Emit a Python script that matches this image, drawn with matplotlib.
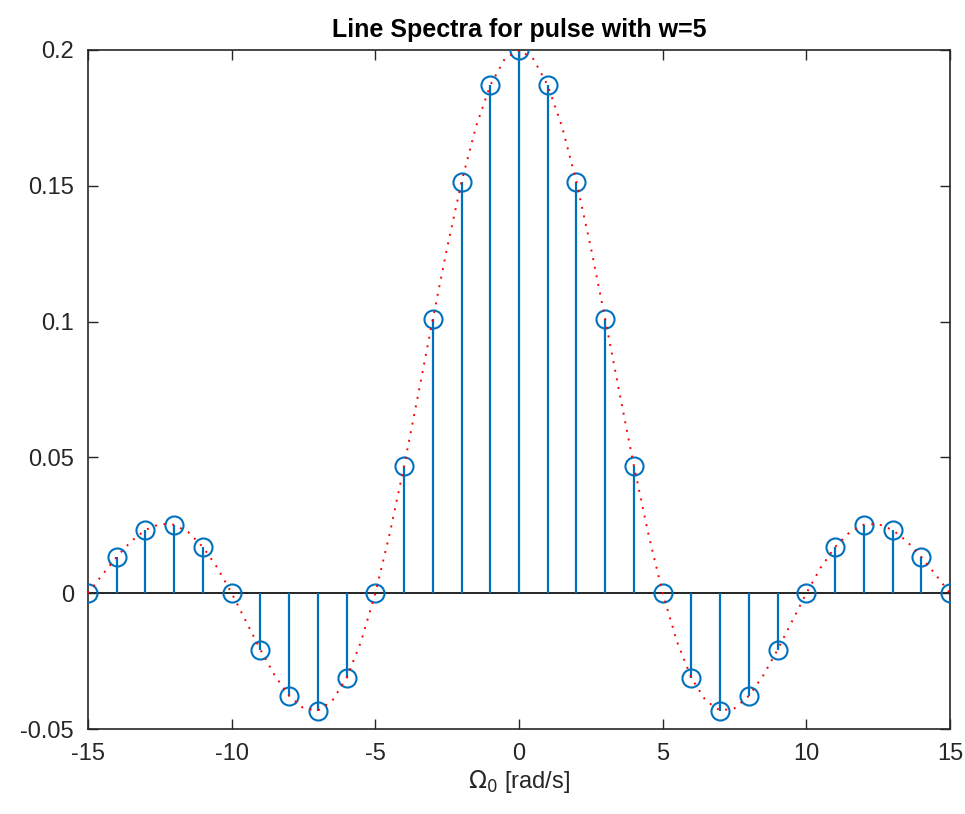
import matplotlib
matplotlib.use("Agg")
import matplotlib.pyplot as plt

# line spectrum values, k = -15..15
k = list(range(-15, 16))
ck_right = [0.2, 0.187, 0.1514, 0.1009, 0.0468, 0.0, -0.0312, -0.0432, -0.0378,
            -0.0208, 0.0, 0.0170, 0.0252, 0.0233, 0.0134, 0.0]
ck = ck_right[:0:-1] + ck_right

# envelope (red dotted), read at half steps
env_x = [i / 2 for i in range(-30, 31)]
env_right = [0.2, 0.1967, 0.187, 0.1717, 0.1514, 0.1273, 0.1009, 0.0736, 0.0468,
             0.0219, 0.0, -0.0179, -0.0312, -0.0396, -0.0432, -0.0424, -0.0378,
             -0.0303, -0.0208, -0.0104, 0.0, 0.0094, 0.0170, 0.0224, 0.0252,
             0.0255, 0.0233, 0.0191, 0.0134, 0.0068, 0.0]
env = env_right[:0:-1] + env_right

plt.rcParams['font.family'] = ['Liberation Sans', 'DejaVu Sans']
plt.rcParams['axes.unicode_minus'] = False

fig = plt.figure(figsize=(9.65, 8.14), dpi=100)
ax = fig.add_axes([88 / 965, 1 - 729 / 814, (950 - 88) / 965, (729 - 50) / 814])

blue = '#0072BD'
ax.axhline(0, color='black', lw=1.2, zorder=1)
ax.vlines(k, 0, ck, color=blue, lw=1.6, zorder=2)
ax.plot(k, ck, 'o', mfc='none', mec=blue, ms=13, mew=1.5, zorder=3)
ax.plot(env_x, env, color='red', lw=1.4, ls=(0, (1, 3.5)), zorder=4)

ax.set_xlim(-15, 15)
ax.set_ylim(-0.05, 0.2)
ax.set_xticks(range(-15, 16, 5))
ax.set_yticks([-0.05, 0, 0.05, 0.1, 0.15, 0.2])
ax.set_yticklabels(['-0.05', '0', '0.05', '0.1', '0.15', '0.2'])
ax.tick_params(direction='in', top=True, right=True, length=7, width=1,
               labelsize=17, colors='#262626', pad=10)
for s in ax.spines.values():
    s.set_linewidth(1.2)
    s.set_color('#262626')

ax.set_title('Line Spectra for pulse with w=5', fontsize=18, fontweight='bold', pad=9)
ax.set_xlabel(r'$\Omega_0$ [rad/s]', fontsize=17, color='#262626', labelpad=2)

fig.savefig('out.png', dpi=100)
